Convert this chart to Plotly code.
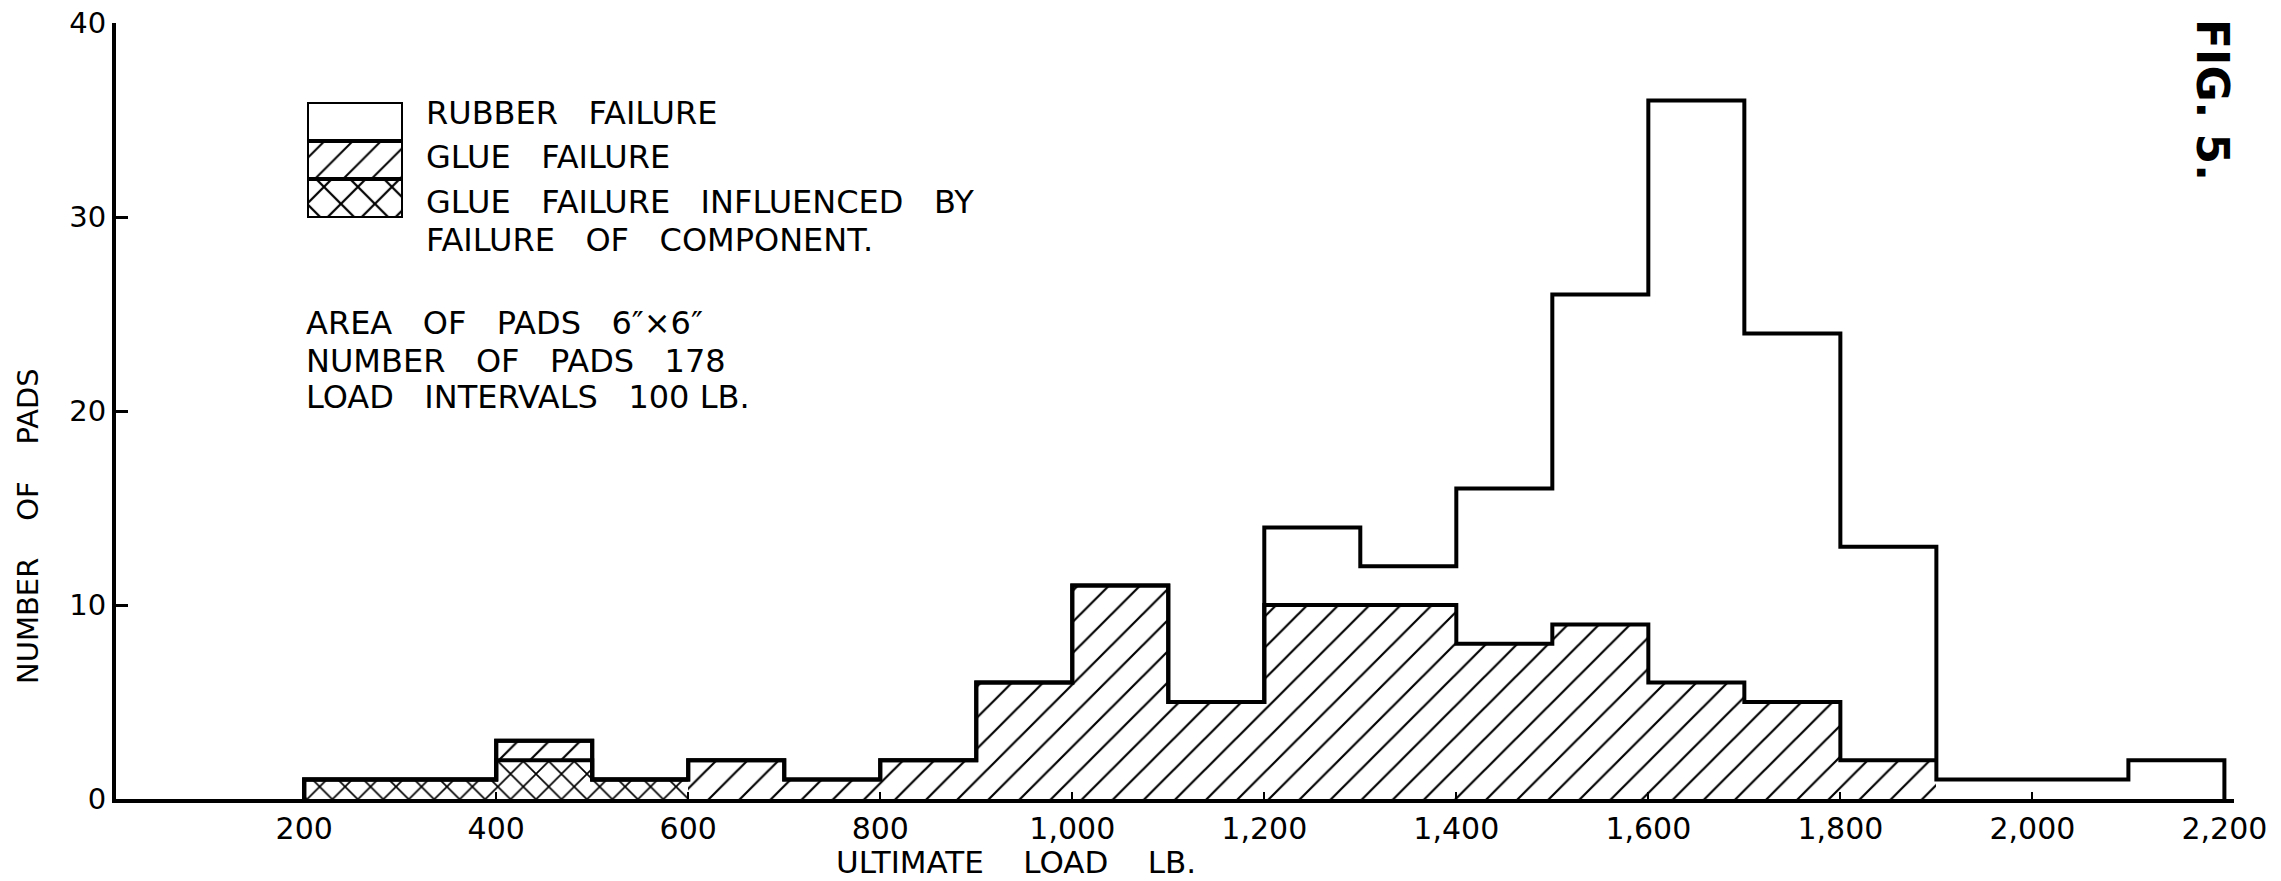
import plotly.graph_objects as go

# ---------------- data ----------------
bin_starts = [200, 300, 400, 500, 600, 700, 800, 900, 1000, 1100,
              1200, 1300, 1400, 1500, 1600, 1700, 1800, 1900, 2000, 2100]
bin_width = 100
glue_influenced = [1, 1, 2, 1, 0, 0, 0, 0, 0, 0, 0, 0, 0, 0, 0, 0, 0, 0, 0, 0]
glue_failure = [0, 0, 1, 0, 2, 1, 2, 6, 11, 5, 10, 10, 8, 9, 6, 5, 2, 0, 0, 0]
rubber_failure = [0, 0, 0, 0, 0, 0, 0, 0, 0, 0, 4, 2, 8, 17, 30, 19, 11, 1, 1, 2]

x_tick_vals = [200, 400, 600, 800, 1000, 1200, 1400, 1600, 1800, 2000, 2200]
x_tick_text = ["200", "400", "600", "800", "1,000", "1,200", "1,400",
               "1,600", "1,800", "2,000", "2,200"]
y_tick_vals = [0, 10, 20, 30, 40]

SP = "\u00a0\u00a0\u00a0"
legend_labels = ["RUBBER" + SP + "FAILURE", "GLUE" + SP + "FAILURE",
                 "GLUE" + SP + "FAILURE" + SP + "INFLUENCED" + SP + "BY",
                 "FAILURE" + SP + "OF" + SP + "COMPONENT."]
notes = ["AREA" + SP + "OF" + SP + "PADS" + SP + "6\u2033\u00d76\u2033",
         "NUMBER" + SP + "OF" + SP + "PADS" + SP + "178",
         "LOAD" + SP + "INTERVALS" + SP + "100\u00a0LB."]
SP4 = "\u00a0\u00a0\u00a0\u00a0"
x_title = "ULTIMATE" + SP4 + "LOAD" + SP4 + "LB."
y_title = "NUMBER" + SP4 + "OF" + SP4 + "PADS"
fig_label = "FIG.\u00a05."

# ---------------- layout constants ----------------
W, H = 2281, 881
L, R, T, B = 116, 47, 23, 82
PW, PH = W - L - R, H - T - B
FONT = "DejaVu Sans"


def px2paper(px, py):
    """page pixel -> paper coordinates"""
    return (px - L) / PW, (H - B - py) / PH


centers = [s + bin_width / 2 for s in bin_starts]
cum_infl = glue_influenced[:]
cum_glue = [a + b for a, b in zip(glue_influenced, glue_failure)]
cum_total = [a + b for a, b in zip(cum_glue, rubber_failure)]

fig = go.Figure()

hatch = dict(shape="/", size=22, solidity=0.1, fgcolor="black", bgcolor="white", fgopacity=1)
cross = dict(shape="x", size=18, solidity=0.18, fgcolor="black", bgcolor="white", fgopacity=1)

fig.add_trace(go.Bar(x=centers, y=glue_influenced, width=bin_width,
                     marker=dict(color="white", pattern=cross, line=dict(width=0)),
                     showlegend=False, hoverinfo="skip"))
fig.add_trace(go.Bar(x=centers, y=glue_failure, width=bin_width,
                     marker=dict(color="white", pattern=hatch, line=dict(width=0)),
                     showlegend=False, hoverinfo="skip"))
fig.add_trace(go.Bar(x=centers, y=rubber_failure, width=bin_width,
                     marker=dict(color="white", line=dict(width=0)),
                     showlegend=False, hoverinfo="skip"))


def step_outline(tops, close_right):
    idx = [i for i, v in enumerate(tops) if v > 0]
    i0, i1 = idx[0], idx[-1]
    xs = [bin_starts[i0]] + bin_starts[i0:i1 + 1] + [bin_starts[i1] + bin_width]
    ys = [0] + tops[i0:i1 + 1] + ([0] if close_right else [tops[i1]])
    return xs, ys


for tops, close in [(cum_infl, False), (cum_glue, False), (cum_total, True)]:
    xs, ys = step_outline(tops, close)
    fig.add_trace(go.Scatter(x=xs, y=ys, mode="lines", line=dict(shape="hv", color="black", width=4),
                             showlegend=False, hoverinfo="skip", cliponaxis=False))

# legend box as an inset stacked bar
lx0, ly0 = px2paper(307, 218)
lx1, ly1 = px2paper(403, 102)
hatch_l = dict(hatch, size=20)
cross_l = dict(cross, size=24)
for pat in [cross_l, hatch_l, None]:
    mk = dict(color="white", line=dict(width=4, color="black"))
    if pat:
        mk["pattern"] = pat
    fig.add_trace(go.Bar(x=[0], y=[1], width=1, marker=mk, xaxis="x2", yaxis="y2",
                         showlegend=False, hoverinfo="skip", cliponaxis=False))

annotations = []
TXT = 32
for label, py in zip(legend_labels, [113, 157, 202, 240]):
    x, y = px2paper(424, py)
    annotations.append(dict(text=label, x=x, y=y, xref="paper", yref="paper",
                            xanchor="left", yanchor="middle", showarrow=False,
                            font=dict(family=FONT, size=TXT, color="black")))
for label, py in zip(notes, [323, 361, 397]):
    x, y = px2paper(304, py)
    annotations.append(dict(text=label, x=x, y=y, xref="paper", yref="paper",
                            xanchor="left", yanchor="middle", showarrow=False,
                            font=dict(family=FONT, size=TXT, color="black")))
x, y = px2paper(1016, 862)
annotations.append(dict(text=x_title, x=x, y=y, xref="paper", yref="paper",
                        xanchor="center", yanchor="middle", showarrow=False,
                        font=dict(family=FONT, size=31, color="black")))
x, y = px2paper(28, 526)
annotations.append(dict(text=y_title, x=x, y=y, xref="paper", yref="paper", textangle=-90,
                        xanchor="center", yanchor="middle", showarrow=False,
                        font=dict(family=FONT, size=29, color="black")))
x, y = px2paper(2212, 100)
annotations.append(dict(text="<b>" + fig_label + "</b>", x=x, y=y, xref="paper", yref="paper",
                        textangle=90, xanchor="center", yanchor="middle", showarrow=False,
                        font=dict(family=FONT, size=44, color="black")))

fig.update_layout(
    width=W, height=H,
    margin=dict(l=L, r=R, t=T, b=B, pad=0, autoexpand=False),
    paper_bgcolor="white", plot_bgcolor="white",
    barmode="stack", bargap=0,
    font=dict(family=FONT, color="black"),
    annotations=annotations,
    xaxis=dict(range=[4, 2210], tickvals=x_tick_vals, ticktext=x_tick_text,
               ticks="inside", ticklen=7, tickwidth=2, tickcolor="black",
               showline=True, linewidth=4, linecolor="black",
               showgrid=False, zeroline=False, automargin=False,
               ticklabeloverflow="allow",
               tickfont=dict(family=FONT, size=30, color="black")),
    yaxis=dict(range=[0, 40], tickvals=y_tick_vals,
               ticks="inside", ticklen=12, tickwidth=3, tickcolor="black",
               showline=True, linewidth=4, linecolor="black",
               showgrid=False, zeroline=False, automargin=False,
               ticklabeloverflow="allow",
               tickfont=dict(family=FONT, size=29, color="black")),
    xaxis2=dict(domain=[lx0, lx1], anchor="y2", range=[-0.5, 0.5], visible=False),
    yaxis2=dict(domain=[ly0, ly1], anchor="x2", range=[0, 3], visible=False),
)

fig.write_html("out.html",
               config={"displayModeBar": False},
               post_script="document.body.style.margin='0';"
                           "document.documentElement.style.overflow='hidden';")
